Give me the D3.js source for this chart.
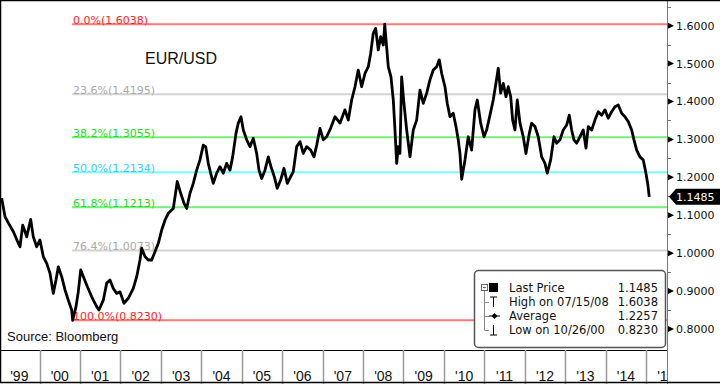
<!DOCTYPE html>
<html>
<head>
<meta charset="utf-8">
<script src="https://cdn.jsdelivr.net/npm/d3@7"></script>
<style>
  body { margin: 0; background: #fff; }
  svg { display: block; }
</style>
</head>
<body>
<div id="chart"></div>
<script>
// EUR/USD, decimal year + price
const years = [
  1999.064, 1999.146, 1999.228, 1999.351, 1999.475, 1999.517, 1999.584, 1999.640, 1999.682, 1999.781,
  1999.846, 1999.930, 2000.011, 2000.093, 2000.177, 2000.259, 2000.340, 2000.407, 2000.464, 2000.548,
  2000.630, 2000.711, 2000.795, 2000.820, 2000.902, 2000.958, 2001.018, 2001.099, 2001.181, 2001.290,
  2001.413, 2001.470, 2001.577, 2001.661, 2001.742, 2001.824, 2001.908, 2001.990, 2002.089, 2002.195,
  2002.318, 2002.403, 2002.484, 2002.526, 2002.608, 2002.689, 2002.774, 2002.855, 2002.937, 2003.021,
  2003.102, 2003.184, 2003.308, 2003.406, 2003.491, 2003.572, 2003.639, 2003.721, 2003.802, 2003.886,
  2003.968, 2004.049, 2004.109, 2004.173, 2004.232, 2004.297, 2004.381, 2004.462, 2004.544, 2004.628,
  2004.710, 2004.776, 2004.858, 2004.915, 2004.982, 2005.039, 2005.123, 2005.204, 2005.286, 2005.370,
  2005.427, 2005.494, 2005.575, 2005.657, 2005.724, 2005.805, 2005.879, 2005.963, 2006.045, 2006.127,
  2006.211, 2006.275, 2006.359, 2006.441, 2006.522, 2006.606, 2006.705, 2006.787, 2006.854, 2006.935,
  2007.017, 2007.101, 2007.200, 2007.306, 2007.430, 2007.553, 2007.635, 2007.719, 2007.801, 2007.882,
  2007.966, 2008.048, 2008.130, 2008.189, 2008.253, 2008.312, 2008.377, 2008.436, 2008.501, 2008.537,
  2008.624, 2008.691, 2008.748, 2008.790, 2008.832, 2008.871, 2008.913, 2008.955, 2009.012, 2009.079,
  2009.161, 2009.242, 2009.326, 2009.408, 2009.490, 2009.574, 2009.655, 2009.737, 2009.821, 2009.885,
  2009.945, 2010.026, 2010.083, 2010.150, 2010.231, 2010.298, 2010.355, 2010.397, 2010.439, 2010.521,
  2010.602, 2010.686, 2010.768, 2010.825, 2010.909, 2010.991, 2011.057, 2011.139, 2011.220, 2011.287,
  2011.344, 2011.403, 2011.468, 2011.535, 2011.591, 2011.651, 2011.700, 2011.757, 2011.814, 2011.881,
  2011.962, 2012.029, 2012.111, 2012.170, 2012.252, 2012.333, 2012.417, 2012.499, 2012.556, 2012.640,
  2012.722, 2012.788, 2012.870, 2012.951, 2013.036, 2013.100, 2013.159, 2013.216, 2013.283, 2013.364,
  2013.446, 2013.513, 2013.570, 2013.654, 2013.735, 2013.817, 2013.901, 2013.983, 2014.064, 2014.148,
  2014.230, 2014.312, 2014.396, 2014.477, 2014.559, 2014.643, 2014.700, 2014.767, 2014.848, 2014.930,
  2014.996, 2015.039, 2015.078
];
const prices = [
  1.145, 1.096, 1.080, 1.057, 1.026, 1.017, 1.074, 1.057, 1.043, 1.089,
  1.043, 1.017, 1.035, 0.991, 0.973, 0.947, 0.894, 0.929, 0.964, 0.938,
  0.903, 0.876, 0.850, 0.823, 0.859, 0.898, 0.956, 0.934, 0.912, 0.885,
  0.859, 0.850, 0.876, 0.921, 0.929, 0.907, 0.894, 0.898, 0.868, 0.881,
  0.907, 0.938, 0.982, 1.013, 0.991, 0.982, 0.982, 1.004, 1.026, 1.061,
  1.087, 1.105, 1.118, 1.189, 1.158, 1.132, 1.118, 1.158, 1.184, 1.219,
  1.246, 1.285, 1.281, 1.237, 1.211, 1.184, 1.211, 1.228, 1.211, 1.237,
  1.219, 1.254, 1.316, 1.343, 1.360, 1.325, 1.299, 1.281, 1.303, 1.263,
  1.219, 1.197, 1.219, 1.254, 1.228, 1.202, 1.171, 1.193, 1.224, 1.184,
  1.202, 1.215, 1.281, 1.294, 1.263, 1.281, 1.272, 1.254, 1.285, 1.329,
  1.299, 1.307, 1.330, 1.360, 1.343, 1.378, 1.351, 1.404, 1.439, 1.483,
  1.439, 1.474, 1.492, 1.527, 1.580, 1.593, 1.536, 1.571, 1.549, 1.6038,
  1.492, 1.465, 1.404, 1.325, 1.237, 1.281, 1.263, 1.465, 1.395, 1.325,
  1.254, 1.325, 1.351, 1.430, 1.395, 1.422, 1.457, 1.483, 1.492, 1.510,
  1.474, 1.439, 1.395, 1.360, 1.369, 1.334, 1.299, 1.263, 1.195, 1.246,
  1.307, 1.272, 1.378, 1.404, 1.343, 1.307, 1.325, 1.364, 1.404, 1.448,
  1.488, 1.422, 1.448, 1.413, 1.439, 1.413, 1.351, 1.325, 1.404, 1.343,
  1.307, 1.263, 1.316, 1.343, 1.334, 1.307, 1.254, 1.237, 1.211, 1.246,
  1.307, 1.290, 1.299, 1.325, 1.338, 1.364, 1.325, 1.299, 1.290, 1.307,
  1.325, 1.277, 1.334, 1.325, 1.351, 1.373, 1.364, 1.378, 1.356, 1.373,
  1.386, 1.391, 1.369, 1.360, 1.347, 1.325, 1.299, 1.272, 1.254, 1.246,
  1.211, 1.184, 1.1485
];

const fibPct = ["0.0%", "23.6%", "38.2%", "50.0%", "61.8%", "76.4%", "100.0%"];
const fibVals = [1.6038, 1.4195, 1.3055, 1.2134, 1.1213, 1.0073, 0.8230];
const fibLine = ["#f77", "#d4d4d4", "#7e7", "#7ff", "#7e7", "#d4d4d4", "#f77"];
const fibText = ["#f22", "#aaa", "#2d2", "#3cf", "#2d2", "#aaa", "#f22"];

const yTicks = [0.8, 0.9, 1.0, 1.1, 1.2, 1.3, 1.4, 1.5, 1.6];
const yearLabels = ["'99", "'00", "'01", "'02", "'03", "'04", "'05", "'06", "'07", "'08",
  "'09", "'10", "'11", "'12", "'13", "'14", "'15"];

const legendRows = [
  { label: "Last Price", value: "1.1485" },
  { label: "High on 07/15/08", value: "1.6038" },
  { label: "Average", value: "1.2257" },
  { label: "Low on 10/26/00", value: "0.8230" }
];
const lastPrice = 1.1485;

const width = 720, height = 384;
const plotRight = 667, plotBottom = 350;

const svg = d3.select("#chart").append("svg")
  .attr("width", width)
  .attr("height", height);

const x = d3.scaleLinear().domain([1999, 2015]).range([-0.9, 646.1]);
const y = d3.scaleLinear().domain([0.8, 1.6]).range([329, 25.7]);

svg.append("defs").append("clipPath").attr("id", "plot")
  .append("rect").attr("x", 1).attr("y", 1)
  .attr("width", plotRight - 1).attr("height", plotBottom - 1);

// fibonacci lines
fibVals.forEach((v, i) => {
  svg.append("line")
    .attr("x1", 72).attr("x2", plotRight)
    .attr("y1", y(v)).attr("y2", y(v))
    .attr("stroke", fibLine[i])
    .attr("stroke-width", 2);
  svg.append("text")
    .attr("x", 73).attr("y", y(v) - 0.5)
    .attr("fill", fibText[i])
    .style("font-family", "DejaVu Sans")
    .style("font-size", "11px")
    .text(`${fibPct[i]}(${v.toFixed(4)})`);
});

// price line
const data = years.map((t, i) => [t, prices[i]]);
svg.append("path")
  .datum(data)
  .attr("clip-path", "url(#plot)")
  .attr("fill", "none")
  .attr("stroke", "#000")
  .attr("stroke-width", 2.8)
  .attr("stroke-linejoin", "round")
  .attr("d", d3.line().x(d => x(d[0])).y(d => y(d[1])));

svg.append("text")
  .attr("x", 145).attr("y", 64)
  .style("font-family", "Liberation Sans, Arial")
  .style("font-size", "16px")
  .attr("fill", "#111")
  .text("EUR/USD");

svg.append("text")
  .attr("x", 7).attr("y", 341)
  .style("font-family", "Liberation Sans, Arial")
  .style("font-size", "13px")
  .attr("fill", "#111")
  .text("Source: Bloomberg");

// right axis
svg.append("line")
  .attr("x1", plotRight + 0.5).attr("x2", plotRight + 0.5)
  .attr("y1", 0).attr("y2", height)
  .attr("stroke", "#777");

const minor = d3.range(0.85, 1.66, 0.1);
svg.selectAll(".minor").data(minor).enter().append("line")
  .attr("x1", plotRight).attr("x2", plotRight + 4)
  .attr("y1", d => Math.round(y(d)) + 0.5).attr("y2", d => Math.round(y(d)) + 0.5)
  .attr("stroke", "#777");

svg.selectAll(".major").data(yTicks).enter().append("path")
  .attr("d", d => {
    const yy = y(d);
    return `M${plotRight + 1},${yy - 3}L${plotRight + 7},${yy}L${plotRight + 1},${yy + 3}Z`;
  })
  .attr("fill", "#000");

svg.selectAll(".ylab").data(yTicks).enter().append("text")
  .attr("x", 676).attr("y", d => y(d))
  .attr("dy", "0.36em")
  .style("font-family", "DejaVu Sans")
  .style("font-size", "11px")
  .attr("fill", "#111")
  .text(d => d.toFixed(4));

// last price tag
const ly = y(lastPrice);
svg.append("path")
  .attr("d", `M${plotRight + 2},${ly}L${plotRight + 9},${ly - 8}L${width},${ly - 8}L${width},${ly + 8}L${plotRight + 9},${ly + 8}Z`)
  .attr("fill", "#000");
svg.append("text")
  .attr("x", 676).attr("y", ly)
  .attr("dy", "0.36em")
  .style("font-family", "DejaVu Sans")
  .style("font-size", "11px")
  .attr("fill", "#fff")
  .text(lastPrice.toFixed(4));

// bottom band
svg.append("line")
  .attr("x1", 0).attr("x2", plotRight)
  .attr("y1", plotBottom + 0.5).attr("y2", plotBottom + 0.5)
  .attr("stroke", "#000");

const yearStarts = d3.range(2000, 2016);
svg.selectAll(".ytick").data(yearStarts).enter().append("line")
  .attr("x1", d => Math.round(x(d)) + 0.5).attr("x2", d => Math.round(x(d)) + 0.5)
  .attr("y1", plotBottom).attr("y2", height)
  .attr("stroke", "#999")
  .attr("stroke-width", 1.5);

svg.append("defs").append("clipPath").attr("id", "band")
  .append("rect").attr("x", 0).attr("y", plotBottom)
  .attr("width", plotRight).attr("height", height - plotBottom);

svg.append("g").attr("clip-path", "url(#band)")
  .selectAll("text").data(yearLabels).enter().append("text")
  .attr("x", (d, i) => x(1999.5 + i))
  .attr("y", 381)
  .attr("text-anchor", "middle")
  .style("font-family", "Liberation Sans, Arial")
  .style("font-size", "14px")
  .attr("fill", "#111")
  .text(d => d);

// legend
const lg = svg.append("g");
lg.append("rect")
  .attr("x", 474.5).attr("y", 270.5)
  .attr("width", 191).attr("height", 77)
  .attr("rx", 4)
  .attr("fill", "#fff")
  .attr("stroke", "#555")
  .attr("stroke-width", 1.5);

const rowY = d3.scaleLinear().domain([0, 3]).range([288, 330]);
const tf = "DejaVu Sans";

lg.append("rect").attr("x", 481.5).attr("y", rowY(0) - 3.5).attr("width", 6).attr("height", 6)
  .attr("fill", "#fff").attr("stroke", "#666");
lg.append("line").attr("x1", 483).attr("x2", 486).attr("y1", rowY(0) - 0.5).attr("y2", rowY(0) - 0.5)
  .attr("stroke", "#666");
lg.append("rect").attr("x", 489).attr("y", rowY(0) - 5).attr("width", 9).attr("height", 9)
  .attr("fill", "#000");
lg.append("line").attr("x1", 484.5).attr("x2", 484.5).attr("y1", rowY(0) + 3).attr("y2", rowY(3))
  .attr("stroke", "#888");
[1, 2, 3].forEach(i => {
  lg.append("line").attr("x1", 484.5).attr("x2", 489).attr("y1", rowY(i) + 0.5).attr("y2", rowY(i) + 0.5)
    .attr("stroke", "#888");
});
// high
lg.append("path").attr("d", `M490,${rowY(1) - 5}H497M493.5,${rowY(1) - 5}V${rowY(1) + 5}`)
  .attr("stroke", "#000").attr("fill", "none");
// average
lg.append("path").attr("d", `M489,${rowY(2)}H500`).attr("stroke", "#000");
lg.append("path").attr("d", `M494.5,${rowY(2) - 3}L497.5,${rowY(2)}L494.5,${rowY(2) + 3}L491.5,${rowY(2)}Z`)
  .attr("fill", "#000");
// low
lg.append("path").attr("d", `M493.5,${rowY(3) - 5}V${rowY(3) + 5}M490,${rowY(3) + 5}H497`)
  .attr("stroke", "#000").attr("fill", "none");

lg.selectAll(".ll").data(legendRows).enter().append("text")
  .attr("x", 509).attr("y", (d, i) => rowY(i))
  .attr("dy", "0.36em")
  .style("font-family", tf).style("font-size", "11.5px")
  .attr("fill", "#111")
  .text(d => d.label);
lg.selectAll(".lv").data(legendRows).enter().append("text")
  .attr("x", 658).attr("y", (d, i) => rowY(i))
  .attr("dy", "0.36em")
  .attr("text-anchor", "end")
  .style("font-family", tf).style("font-size", "11.5px")
  .attr("fill", "#111")
  .text(d => d.value);

// frame
svg.append("path")
  .attr("d", `M0.5,${height - 1.5}V0.5H${width}M0,${height - 1.5}H${width}`)
  .attr("fill", "none")
  .attr("stroke", "#000")
  .attr("stroke-width", 1.5);
</script>
</body>
</html>
